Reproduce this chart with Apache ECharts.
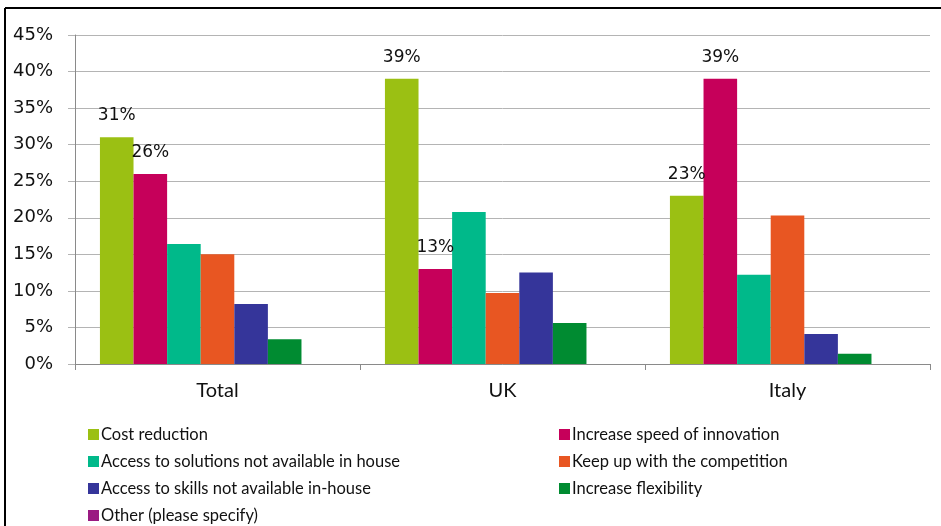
<!DOCTYPE html>
<html>
<head>
<meta charset="utf-8">
<script src="https://cdn.jsdelivr.net/npm/echarts@6/dist/echarts.min.js"></script>
<style>
  html, body { margin: 0; padding: 0; background: #fff; }
  #chart { width: 941px; height: 526px; }
</style>
</head>
<body>
<div id="chart"></div>
<script>
// Reasons for outsourcing, share of respondents by market
const categories = ['Total', 'UK', 'Italy'];

const costReduction      = [31, 39, 23];
const speedOfInnovation  = [26, 13, 39];
const solutionsAccess    = [16.4, 20.8, 12.2];
const keepUpCompetition  = [15.0, 9.7, 20.3];
const skillsAccess       = [8.2, 12.5, 4.1];
const flexibility        = [3.4, 5.6, 1.4];
const otherSpecify       = [0, 0, 0];

const yTicks = { min: 0, max: 45, step: 5 };

const seriesNames = [
  'Cost reduction',
  'Increase speed of innovation',
  'Access to solutions not available in house',
  'Keep up with the competition',
  'Access to skills not available in-house',
  'Increase flexibility',
  'Other (please specify)'
];
const seriesValues = [costReduction, speedOfInnovation, solutionsAccess, keepUpCompetition, skillsAccess, flexibility, otherSpecify];
const seriesColors = ['#9BC013', '#C6005A', '#00B98A', '#E85622', '#35359A', '#008B31', '#9A1A82'];
const labelled = [true, true, false, false, false, false, false];

const labelFont = 'DejaVu Sans';
const textFont = 'Lato';

const chart = echarts.init(document.getElementById('chart'), null, { renderer: 'canvas' });

const series = seriesNames.map((name, i) => ({
  name: name,
  type: 'bar',
  data: seriesValues[i],
  barGap: '0%',
  barCategoryGap: '17.5%',
  itemStyle: { color: seriesColors[i] },
  label: {
    show: labelled[i],
    position: 'top',
    distance: 13,
    color: '#111',
    fontFamily: labelFont,
    fontSize: 17,
    formatter: p => Math.round(p.value) + '%'
  }
}));

const legendCommon = {
  orient: 'vertical',
  padding: 0,
  height: 110,
  itemWidth: 11,
  itemHeight: 11,
  itemGap: 10,
  icon: 'rect',
  textStyle: { fontFamily: textFont, fontSize: 16.5, lineHeight: 16, color: '#111', padding: [0, 0, 0, -3] },
  selectedMode: false
};

chart.setOption({
  animation: false,
  backgroundColor: '#fff',
  grid: { left: 75, right: 11, top: 35, bottom: 162, containLabel: false },
  xAxis: {
    type: 'category',
    data: categories,
    axisLine: { lineStyle: { color: '#8a8a8a', width: 1 } },
    axisTick: { show: true, length: 6, lineStyle: { color: '#8a8a8a' } },
    axisLabel: { color: '#111', fontFamily: textFont, fontSize: 20, margin: 17 }
  },
  yAxis: {
    type: 'value',
    min: yTicks.min,
    max: yTicks.max,
    interval: yTicks.step,
    axisLine: { show: true, lineStyle: { color: '#8a8a8a', width: 1 } },
    axisTick: { show: true, length: 7, lineStyle: { color: '#b4b4b4' } },
    splitLine: { lineStyle: { color: '#b4b4b4', width: 1 } },
    axisLabel: { color: '#111', fontFamily: labelFont, fontSize: 18, margin: 22, formatter: '{value}%' }
  },
  legend: [
    Object.assign({}, legendCommon, {
      left: 88, top: 426,
      data: [seriesNames[0], seriesNames[2], seriesNames[4], seriesNames[6]]
    }),
    Object.assign({}, legendCommon, {
      left: 559, top: 426,
      data: [seriesNames[1], seriesNames[3], seriesNames[5]]
    })
  ],
  graphic: [
    { type: 'line', shape: { x1: 5, y1: 8, x2: 941, y2: 8 }, style: { stroke: '#000', lineWidth: 2 } },
    { type: 'line', shape: { x1: 5, y1: 8, x2: 5, y2: 526 }, style: { stroke: '#000', lineWidth: 2 } }
  ],
  series: series
});
</script>
</body>
</html>
